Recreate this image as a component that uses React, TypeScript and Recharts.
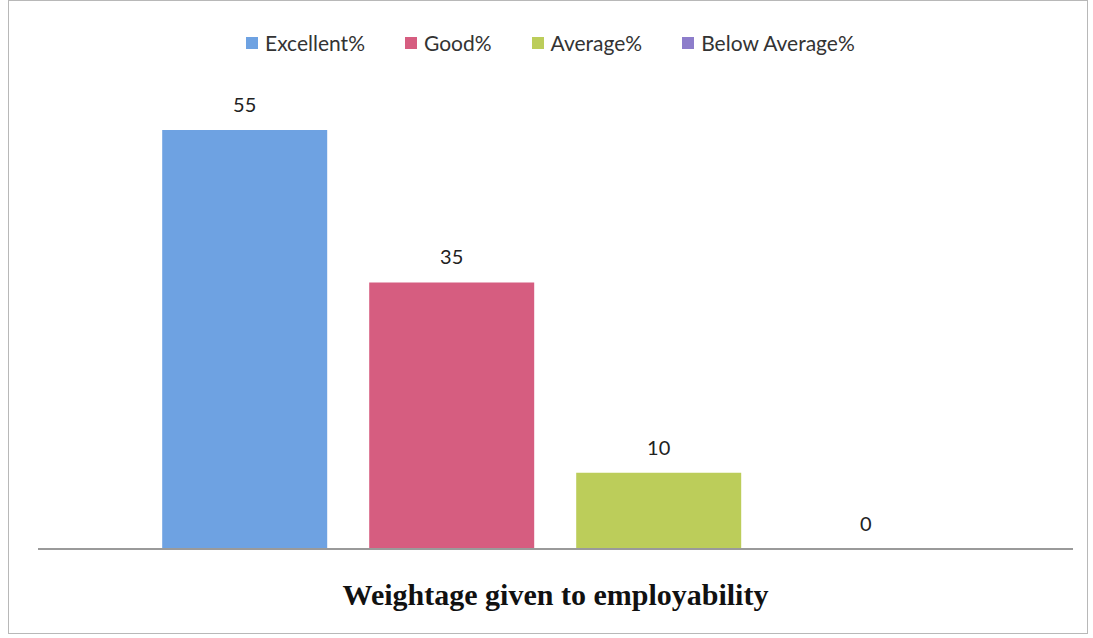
import { BarChart, Bar, XAxis, YAxis } from 'recharts';

const category = ['Weightage given to employability'];
const seriesNames = ['Excellent%', 'Good%', 'Average%', 'Below Average%'];
const seriesValues = [55, 35, 10, 0];
const seriesColors = ['#6ea2e2', '#d65d80', '#bccd5a', '#8d7dcb'];

const data = category.map((name) => {
    const row: Record<string, string | number> = { name };
    seriesNames.forEach((s, i) => {
        row[s] = seriesValues[i];
    });
    return row;
});

// value above each bar (zero bars get a 1px stub so the label still shows)
const valueLabel = (props: any) => {
    const { x, y, width, height, value } = props;
    const top = value === 0 ? y + height : y;
    return (
        <text x={x + width / 2} y={top - 18} textAnchor="middle" fill="#222" fontSize={20} fontFamily="Lato, sans-serif">
            {value}
        </text>
    );
};

export default function App() {
    return (
        <div style={{ position: 'absolute', top: 0, left: 0, width: 1093, height: 638, background: '#fff' }}>
            <div style={{ position: 'absolute', left: 8, top: 0, width: 1080, height: 634, border: '1px solid #b8b8b8', boxSizing: 'border-box' }} />
            <div style={{ position: 'absolute', top: 30, left: 246, display: 'flex', gap: 40, fontFamily: 'Lato, sans-serif', fontSize: 21, color: '#333', lineHeight: '26px' }}>
                {seriesNames.map((s, i) => (
                    <div key={s} style={{ display: 'flex', alignItems: 'center', gap: 7 }}>
                        <span style={{ width: 12, height: 12, background: seriesColors[i], display: 'inline-block' }} />
                        <span>{s}</span>
                    </div>
                ))}
            </div>
            <BarChart width={1093} height={638} data={data} margin={{ top: 92, right: 20, left: 38, bottom: 88 }} barCategoryGap="12%" barGap={42}>
                <YAxis hide domain={[0, 60]} />
                {seriesNames.map((s, i) => (
                    <Bar key={s} dataKey={s} fill={seriesColors[i]} isAnimationActive={false} label={valueLabel} minPointSize={1} />
                ))}
                <XAxis dataKey="name" tick={false} tickLine={false} axisLine={{ stroke: '#9a9a9a', strokeWidth: 2 }} height={1} />
            </BarChart>
            <div style={{ position: 'absolute', top: 578, left: 38, width: 1035, textAlign: 'center', fontFamily: '"Liberation Serif", serif', fontWeight: 'bold', fontSize: 30, color: '#111' }}>
                {category[0]}
            </div>
        </div>
    );
}
